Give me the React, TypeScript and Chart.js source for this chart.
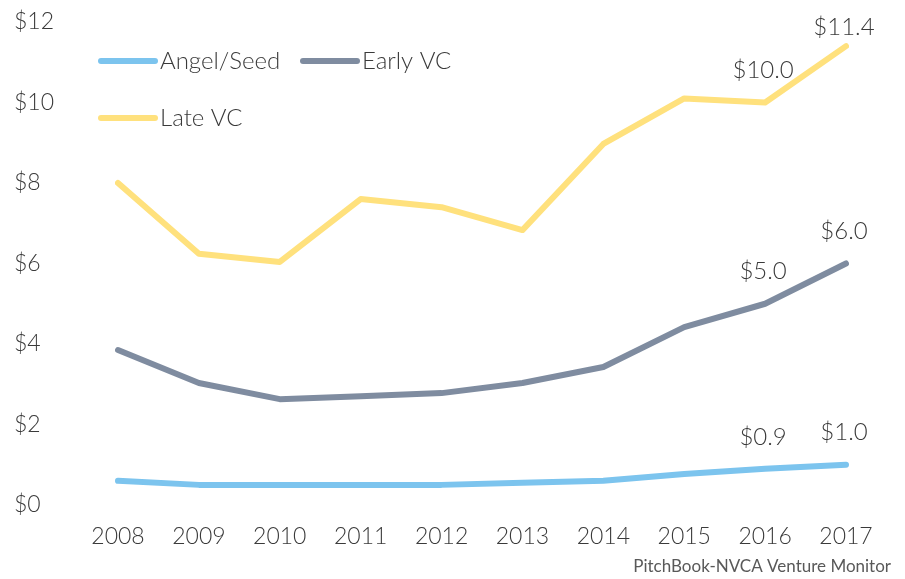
import React, { useEffect, useRef } from "react";
import { Chart, registerables } from "chart.js";

Chart.register(...registerables);

const years = ["2008", "2009", "2010", "2011", "2012", "2013", "2014", "2015", "2016", "2017"];
const angelSeed = [0.6, 0.5, 0.5, 0.5, 0.5, 0.55, 0.6, 0.77, 0.9, 1.0];
const earlyVC = [3.85, 3.03, 2.63, 2.7, 2.78, 3.03, 3.43, 4.42, 5.0, 6.0];
const lateVC = [8.0, 6.24, 6.04, 7.6, 7.4, 6.83, 8.97, 10.1, 10.0, 11.4];
const seriesNames = ["Angel/Seed", "Early VC", "Late VC"];
const seriesColors = ["#7CC4EE", "#7F8CA0", "#FFE17D"];
const labelledIndices = [8, 9];
const sourceText = "PitchBook-NVCA Venture Monitor";

const FONT = "Lato, 'Open Sans', sans-serif";
const TEXT = "#3a3a3a";

const overlayPlugin = {
  id: "overlay",
  afterDatasetsDraw(chart: any) {
    const ctx = chart.ctx;
    const area = chart.chartArea;
    ctx.save();
    // data labels
    ctx.font = `300 24px ${FONT}`;
    ctx.fillStyle = TEXT;
    ctx.textAlign = "center";
    ctx.textBaseline = "middle";
    chart.data.datasets.forEach((ds: any, di: number) => {
      const meta = chart.getDatasetMeta(di);
      labelledIndices.forEach((i) => {
        const pt = meta.data[i];
        const v = ds.data[i] as number;
        const y = Math.max(pt.y - 32, area.top + 5);
        ctx.fillText("$" + v.toFixed(1), pt.x - 2, y);
      });
    });
    // legend
    const items = [
      { x: area.left - 17, y: area.top + 39 },
      { x: area.left + 185, y: area.top + 39 },
      { x: area.left - 17, y: area.top + 96 },
    ];
    ctx.textAlign = "left";
    ctx.lineCap = "round";
    ctx.lineWidth = 6;
    items.forEach((it, i) => {
      ctx.strokeStyle = seriesColors[i];
      ctx.beginPath();
      ctx.moveTo(it.x, it.y);
      ctx.lineTo(it.x + 54, it.y);
      ctx.stroke();
      ctx.fillStyle = TEXT;
      ctx.fillText(seriesNames[i], it.x + 59, it.y);
    });
    // source
    ctx.font = `17px ${FONT}`;
    ctx.fillStyle = "#595959";
    ctx.textAlign = "right";
    ctx.fillText(sourceText, chart.width - 14, chart.height - 12);
    ctx.restore();
  },
};

export default function App() {
  const ref = useRef<HTMLCanvasElement>(null);
  useEffect(() => {
    document.body.style.margin = "0";
    const values = [angelSeed, earlyVC, lateVC];
    const chart = new Chart(ref.current as HTMLCanvasElement, {
      type: "line",
      data: {
        labels: years,
        datasets: values.map((d, i) => ({
          label: seriesNames[i],
          data: d,
          borderColor: seriesColors[i],
          backgroundColor: seriesColors[i],
          borderWidth: 6,
          pointRadius: 0,
          tension: 0,
          borderJoinStyle: "round" as const,
          borderCapStyle: "round" as const,
        })),
      },
      options: {
        animation: false,
        responsive: false,
        layout: { padding: { left: 14, right: 59, top: 22, bottom: 0 } },
        plugins: { legend: { display: false }, tooltip: { enabled: false } },
        scales: {
          x: {
            grid: { display: false, drawTicks: false },
            border: { display: false },
            ticks: {
              color: TEXT,
              font: { family: FONT, size: 23, weight: 300 as any },
              padding: 18,
              maxRotation: 0,
            },
            afterFit: (s: any) => {
              s.height = 74;
            },
          },
          y: {
            min: 0,
            max: 12,
            grid: { display: false, drawTicks: false },
            border: { display: false },
            ticks: {
              stepSize: 2,
              color: TEXT,
              crossAlign: "far",
              font: { family: FONT, size: 23, weight: 300 as any },
              callback: (v: any) => "$" + v,
            },
            afterFit: (s: any) => {
              s.width = 104;
            },
          },
        },
      },
      plugins: [overlayPlugin],
    });
    return () => chart.destroy();
  }, []);
  return (
    <div style={{ position: "absolute", left: 0, top: 0, width: 905, height: 579, background: "#fff" }}>
      <canvas ref={ref} width={905} height={579} style={{ display: "block", width: 905, height: 579 }} />
    </div>
  );
}
